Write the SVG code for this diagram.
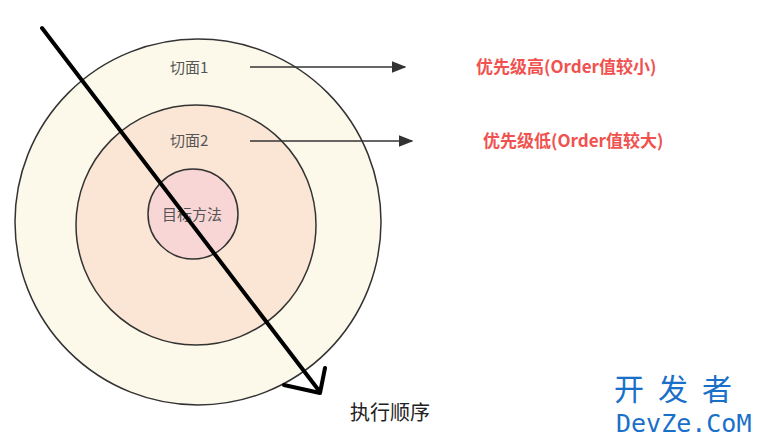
<svg xmlns="http://www.w3.org/2000/svg" width="772" height="443" viewBox="0 0 772 443">
<style>
.c{stroke:#333;stroke-width:1.5}
.t{font-family:"Noto Sans CJK SC",sans-serif;font-size:15px;fill:#555}
.r{font-family:"Noto Sans CJK SC",sans-serif;font-size:17px;fill:#f0524f;font-weight:bold}
</style>
<rect width="772" height="443" fill="#fff"/>
<g id="outer"><circle class="c" cx="198" cy="222" r="183" fill="#fdf9ea"/><text class="t" x="170" y="73">切面1</text></g>
<g id="middle"><circle class="c" cx="196" cy="225" r="120" fill="#fbe6d5"/><text class="t" x="170" y="146">切面2</text></g>
<g id="inner"><circle class="c" cx="193" cy="214" r="45" fill="#f8d6d6"/><text class="t" x="162" y="220">目标方法</text></g>
<g id="connectors">
<defs><marker id="a" markerWidth="10" markerHeight="10" refX="9" refY="5" orient="auto"><path d="M0,1 L10,5 L0,9z" fill="#333"/></marker></defs>
<line x1="250" y1="67" x2="405" y2="67" stroke="#333" stroke-width="1.5" marker-end="url(#a)"/>
<line x1="250" y1="141" x2="412" y2="141" stroke="#333" stroke-width="1.5" marker-end="url(#a)"/>
<path d="M42,28 L320,392 M284,385 L320,393 L325,368" fill="none" stroke="#000" stroke-width="4" stroke-linecap="round" stroke-linejoin="round"/>
</g>
<text class="r" x="476" y="73">优先级高(Order值较小)</text>
<text class="r" x="483" y="147">优先级低(Order值较大)</text>
<text x="350" y="420" font-family="Noto Sans CJK SC,sans-serif" font-size="20" fill="#222">执行顺序</text>
<text x="614" y="400" font-family="Noto Sans CJK SC,sans-serif" font-size="30" fill="#1a6fc9" letter-spacing="14">开发者</text>
<text x="616" y="432" font-family="DejaVu Sans Mono,monospace" font-size="25" fill="#1a6fc9">DevZe.CoM</text>
</svg>
